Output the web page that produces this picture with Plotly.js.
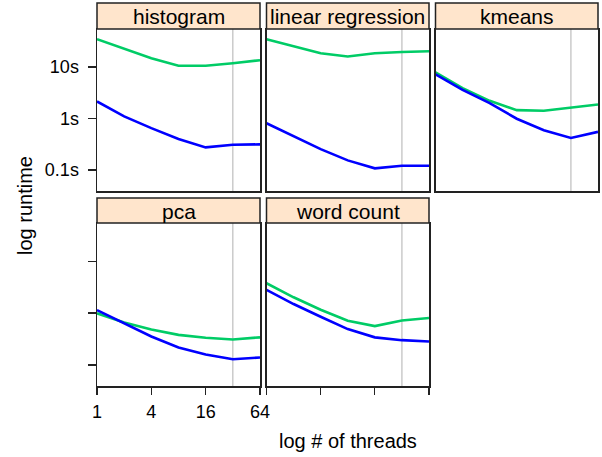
<!DOCTYPE html>
<html><head><meta charset="utf-8">
<script src="https://cdn.plot.ly/plotly-3.0.1.min.js"></script>
<style>html,body{margin:0;padding:0;background:#fff}#chart{width:602px;height:457px}</style>
</head><body><div id="chart"></div>
<script>
// ---- data ----
const threads = [1, 2, 4, 8, 16, 32, 64];
const panelNames = ["histogram", "linear regression", "kmeans", "pca", "word count"];
const greenHistogram   = [34.4, 22.3, 14.7, 10.5, 10.5, 11.8, 13.5];
const blueHistogram    = [2.14, 1.10, 0.65, 0.40, 0.275, 0.31, 0.315];
const greenLinReg      = [34.4, 24.8, 18.4, 15.9, 18.4, 19.5, 20.1];
const blueLinReg       = [0.81, 0.45, 0.255, 0.154, 0.108, 0.121, 0.121];
const greenKmeans      = [7.8, 3.87, 2.2, 1.45, 1.41, 1.61, 1.87];
const blueKmeans       = [7.2, 3.59, 1.98, 0.99, 0.59, 0.42, 0.55];
const greenPca         = [0.99, 0.66, 0.48, 0.38, 0.334, 0.31, 0.34];
const bluePca          = [1.14, 0.64, 0.354, 0.217, 0.159, 0.129, 0.139];
const greenWordCount   = [3.76, 2.01, 1.16, 0.71, 0.56, 0.72, 0.80];
const blueWordCount    = [2.79, 1.49, 0.85, 0.49, 0.34, 0.30, 0.283];
const greenSeries = [greenHistogram, greenLinReg, greenKmeans, greenPca, greenWordCount];
const blueSeries  = [blueHistogram, blueLinReg, blueKmeans, bluePca, blueWordCount];
const markerThreads = 32;
const xTickVals = [1, 4, 16, 64];
const xTickText = ["1", "4", "16", "64"];
const yTickVals = [0.1, 1, 10];
const yTickText = ["0.1s", "1s", "10s"];

// ---- layout geometry (pixels) ----
const W = 602, H = 457;
const cols = [[97, 260], [266.5, 429], [435.5, 598]];
const rowPlot = [[29, 191], [223, 386]];
const rowStrip = [[3, 29], [198, 223]];
const px = p => p / W, py = p => 1 - p / H;
const yRange = [-1.406, 1.735];
const FONT = "Liberation Sans, Arial, sans-serif";
const DARK = "#222222";

const traces = [];
const layout = {
  width: W, height: H, margin: {l: 0, r: 0, t: 0, b: 0},
  paper_bgcolor: "#ffffff", plot_bgcolor: "#ffffff",
  showlegend: false, font: {family: FONT, color: "#000", size: 16},
  shapes: [], annotations: []
};

panelNames.forEach((name, i) => {
  const row = i < 3 ? 0 : 1, col = i % 3;
  const n = i + 1;
  const xa = "x" + (n === 1 ? "" : n), ya = "y" + (n === 1 ? "" : n);
  // reference line at 32 threads
  traces.push({x: [markerThreads, markerThreads], y: [1e-3, 1e3], xaxis: xa, yaxis: ya,
    mode: "lines", line: {color: "#BEBEBE", width: 1.2}, hoverinfo: "skip"});
  traces.push({x: threads, y: greenSeries[i], xaxis: xa, yaxis: ya, mode: "lines",
    line: {color: "#00CC66", width: 2.6}, hoverinfo: "skip"});
  traces.push({x: threads, y: blueSeries[i], xaxis: xa, yaxis: ya, mode: "lines",
    line: {color: "#0000FF", width: 2.6}, hoverinfo: "skip"});

  const showX = row === 1;           // axes only along bottom row
  const labelX = (i === 3);
  const showY = col === 0;
  const labelY = (i === 0);
  layout["xaxis" + (n === 1 ? "" : n)] = {
    domain: [px(cols[col][0]), px(cols[col][1])], anchor: ya,
    type: "log", range: [0, Math.log10(64)],
    showgrid: false, zeroline: false, showline: true, mirror: true,
    linecolor: DARK, linewidth: 1.5,
    ticks: showX ? "outside" : "", ticklen: 7, tickwidth: 1.2, tickcolor: DARK,
    tickmode: "array", tickvals: xTickVals, ticktext: xTickText,
    showticklabels: labelX, ticklabelstandoff: 2,
    tickfont: {size: 18, family: FONT, color: "#000"}
  };
  layout["yaxis" + (n === 1 ? "" : n)] = {
    domain: [py(rowPlot[row][1]), py(rowPlot[row][0])], anchor: xa,
    type: "log", range: yRange,
    showgrid: false, zeroline: false, showline: true, mirror: true,
    linecolor: DARK, linewidth: 1.5,
    ticks: showY ? "outside" : "", ticklen: 8, tickwidth: 1.2, tickcolor: DARK,
    tickmode: "array", tickvals: yTickVals, ticktext: yTickText,
    showticklabels: labelY, ticklabelstandoff: 5,
    tickfont: {size: 18, family: FONT, color: "#000"}
  };
  // strip
  layout.shapes.push({type: "rect", xref: "paper", yref: "paper",
    x0: px(cols[col][0]), x1: px(cols[col][1]),
    y0: py(rowStrip[row][1]), y1: py(rowStrip[row][0]),
    fillcolor: "#FFE5CC", line: {color: DARK, width: 1.5}});
  layout.annotations.push({xref: "paper", yref: "paper",
    x: px((cols[col][0] + cols[col][1]) / 2), y: py((rowStrip[row][0] + rowStrip[row][1]) / 2 + 0.5),
    text: name, showarrow: false, xanchor: "center", yanchor: "middle",
    font: {size: 21, family: FONT, color: "#000"}});
});

layout.annotations.push({xref: "paper", yref: "paper", x: px(25), y: py(206),
  text: "log runtime", textangle: -90, showarrow: false, xanchor: "center", yanchor: "middle",
  font: {size: 20, family: FONT, color: "#000"}});
layout.annotations.push({xref: "paper", yref: "paper", x: px(348), y: py(441),
  text: "log # of threads", showarrow: false, xanchor: "center", yanchor: "middle",
  font: {size: 20, family: FONT, color: "#000"}});

Plotly.newPlot("chart", traces, layout, {staticPlot: true, displayModeBar: false});
</script>
</body></html>
